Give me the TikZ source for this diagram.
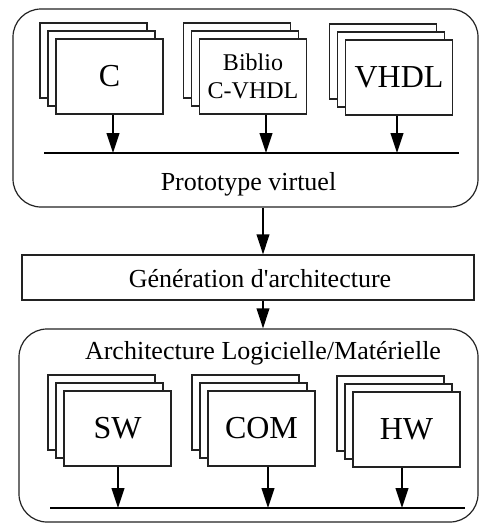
\documentclass[tikz,border=0pt]{standalone}
\usepackage{fontspec}
\setmainfont{Liberation Serif}
\usepackage{tikz}
\usetikzlibrary{arrows.meta,positioning,calc}
\definecolor{ink}{HTML}{000000}
\definecolor{edge}{HTML}{222222}
\newcommand{\maintxt}{\fontsize{19.5}{22}\selectfont}
\newcommand{\bigtxt}{\fontsize{24}{26}\selectfont}
\newcommand{\smtxt}{\fontsize{18}{21}\selectfont}

\begin{document}
\begin{tikzpicture}[x=0.75pt,y=-0.75pt,
  page/.style={draw=edge,fill=white,line width=0.9pt,minimum width=80.25pt,minimum height=56.25pt,inner sep=0pt,align=center},
  frame/.style={draw=edge,line width=0.9pt,rounded corners=21pt,inner sep=0pt},
  genbox/.style={draw=edge,line width=0.9pt,minimum width=339pt,minimum height=33.75pt,inner sep=0pt},
  lbl/.style={font=\maintxt,anchor=base,inner sep=0pt},
  bus/.style={color=ink,line width=1.5pt},
  arr/.style={-{Triangle[length=15pt,width=9.5pt]},color=ink,line width=1.4pt}]
  \useasboundingbox (0,0) rectangle (481,525);
  % conteneurs
  \node[frame,minimum width=348.75pt,minimum height=148.5pt] (proto) at (245.5,108) {};
  \node[lbl] (protolbl) at (248.5,190) {Prototype virtuel};
  \node[genbox] (gen) at (248,277.5) {};
  \node[lbl] (genlbl) at (260,287) {Génération d\textquotesingle architecture};
  \node[frame,minimum width=344.25pt,minimum height=144.75pt] (archi) at (248.5,425.5) {};
  \node[lbl] (archilbl) at (263,359) {Architecture Logicielle/Matérielle};
  % bus
  \coordinate (topbusL) at (44,153); \coordinate (topbusR) at (459,153);
  \coordinate (botbusL) at (50,508); \coordinate (botbusR) at (465,508);
  \draw[bus] (topbusL) -- (topbusR);
  \draw[bus] (botbusL) -- (botbusR);
  % piles de modules
  \foreach \nm/\cx/\cy/\fnt/\txt/\dx/\bb in {
      c/109.5/76.5/\bigtxt/C/3.5/topbusL,
      bib/253/76.5/\smtxt/{Biblio\\C-VHDL}/13/topbusL,
      vhdl/399/77.5/\bigtxt/VHDL/-2/topbusL,
      sw/117.5/428.5/\bigtxt/SW/0.5/botbusL,
      com/261.5/428.5/\bigtxt/COM/6.5/botbusL,
      hw/406.5/429.5/\bigtxt/HW/-4.5/botbusL}{
    \node[page] (\nm3) at (\cx-16,\cy-16) {};
    \node[page] (\nm2) at (\cx-8,\cy-8) {};
    \node[page,font=\fnt] (\nm) at (\cx,\cy) {\txt};
    \draw[arr] ([xshift=\dx*0.75pt]\nm.south) coordinate (\nm out) -- (\nm out |- \bb);
  }
  % flot vertical
  \coordinate (flow) at (263,0);
  \draw[arr] (proto.south -| flow) -- (gen.north -| flow);
  \draw[arr] (gen.south -| flow) -- (archi.north -| flow);
\end{tikzpicture}
\end{document}
